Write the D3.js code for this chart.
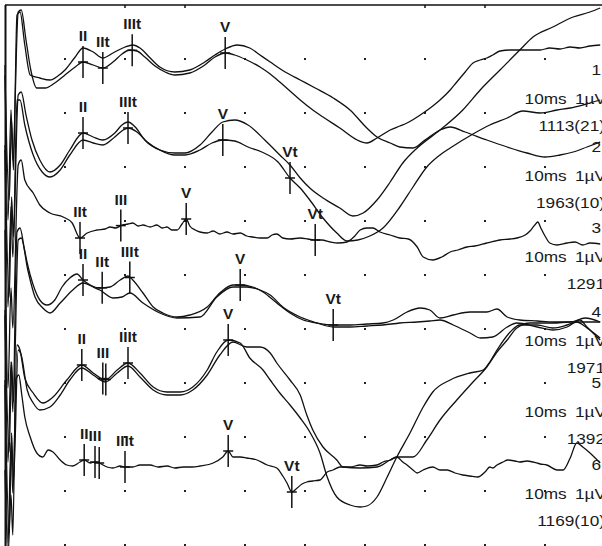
<!DOCTYPE html>
<html>
<head>
<meta charset="utf-8">
<script src="https://cdn.jsdelivr.net/npm/d3@7"></script>
<style>
  body { margin: 0; background: #fff; }
  svg { display: block; }
</style>
</head>
<body>
<div id="abr"></div>
<script>
// ABR recordings: time in ms, amplitude in µV relative to the channel baseline
var ch1a = [[0,0.05],[0.05,-1.5],[0.1,-0.4],[0.13,-0.9],[0.22,0.58],[0.27,0.6],[0.35,0.3],[0.43,0],[0.53,-0.18],[0.67,-0.18],[0.83,-0.13],[1.0,-0.05],[1.17,0.03],[1.3,0.08],[1.47,0.05],[1.63,0.02],[1.8,0.08],[1.95,0.16],[2.08,0.2],[2.2,0.19],[2.33,0.13],[2.5,0.04],[2.67,-0.02],[2.83,-0.05],[3.08,-0.03],[3.33,0.05],[3.5,0.13],[3.67,0.17],[3.83,0.15],[4.03,0.1],[4.25,0.03],[4.42,-0.04],[4.58,-0.12],[4.75,-0.21],[4.92,-0.3],[5.13,-0.4],[5.3,-0.47],[5.58,-0.58],[5.87,-0.7],[6.03,-0.73],[6.2,-0.68],[6.42,-0.6],[6.58,-0.56],[6.7,-0.53],[6.97,-0.43],[7.13,-0.36],[7.25,-0.3],[7.42,-0.2],[7.53,-0.12],[7.67,-0.02],[7.8,0.07],[7.92,0.1],[8.03,0.12],[8.13,0.15],[8.25,0.19],[8.42,0.2],[8.63,0.2],[8.92,0.2],[9.08,0.22],[9.25,0.21],[9.42,0.23],[9.58,0.22],[9.75,0.24],[9.92,0.25]];
var ch1b = [[0,-0.05],[0.07,-1.3],[0.11,-0.5],[0.14,-1.0],[0.2,0.55],[0.25,0.58],[0.33,0.25],[0.42,-0.05],[0.58,-0.08],[0.75,-0.1],[0.88,-0.06],[1.0,0],[1.17,0.13],[1.3,0.22],[1.47,0.18],[1.63,0.12],[1.8,0.17],[2.0,0.23],[2.13,0.25],[2.25,0.22],[2.42,0.12],[2.58,0.03],[2.83,-0.02],[3.08,0],[3.33,0.08],[3.5,0.15],[3.67,0.21],[3.87,0.25],[4.08,0.22],[4.25,0.15],[4.42,0.08],[4.67,-0.02],[4.92,-0.1],[5.17,-0.18],[5.47,-0.28],[5.75,-0.4],[6.03,-0.58],[6.2,-0.67],[6.42,-0.73],[6.58,-0.77],[6.8,-0.78],[7.0,-0.7],[7.25,-0.6],[7.42,-0.57],[7.67,-0.62],[8.03,-0.7],[8.37,-0.77],[8.7,-0.83],[9.0,-0.87],[9.25,-0.85],[9.47,-0.82],[9.7,-0.77],[9.92,-0.72]];
var ch2a = [[0,-0.03],[0.05,-1.6],[0.1,-0.6],[0.13,-1.1],[0.22,0.52],[0.27,0.55],[0.35,0.32],[0.45,0.07],[0.58,-0.13],[0.75,-0.25],[0.92,-0.18],[1.08,-0.03],[1.3,0.14],[1.47,0.1],[1.63,0.07],[1.83,0.14],[1.95,0.22],[2.05,0.25],[2.17,0.2],[2.33,0.07],[2.58,-0.03],[2.83,-0.06],[3.0,-0.06],[3.25,0.02],[3.45,0.15],[3.63,0.25],[3.83,0.27],[4.05,0.22],[4.33,0.07],[4.58,-0.08],[4.75,-0.18],[4.92,-0.31],[5.08,-0.41],[5.3,-0.51],[5.58,-0.61],[5.8,-0.69],[5.97,-0.66],[6.2,-0.53],[6.42,-0.35],[6.63,-0.16],[6.87,-0.01],[7.25,0.17],[7.63,0.37],[7.92,0.57],[8.25,0.77],[8.58,0.97],[8.8,1.1],[9.13,1.2],[9.47,1.3],[9.75,1.35],[9.92,1.39]];
var ch2b = [[0,0.02],[0.07,-1.5],[0.11,-0.5],[0.14,-0.9],[0.2,0.47],[0.25,0.47],[0.33,0.22],[0.47,-0.08],[0.62,-0.25],[0.75,-0.3],[0.92,-0.23],[1.08,-0.08],[1.3,0.07],[1.47,0.04],[1.63,0.02],[1.83,0.1],[1.97,0.17],[2.05,0.19],[2.2,0.15],[2.37,0.05],[2.58,-0.03],[2.83,-0.08],[3.0,-0.08],[3.25,-0.03],[3.45,0.04],[3.63,0.07],[3.83,0.06],[4.05,0],[4.28,-0.05],[4.55,-0.15],[4.75,-0.31],[4.92,-0.41],[5.08,-0.53],[5.3,-0.71],[5.53,-0.86],[5.7,-0.94],[5.88,-0.93],[6.08,-0.89],[6.3,-0.81],[6.58,-0.6],[6.8,-0.4],[7.03,-0.2],[7.25,-0.08],[7.42,-0.01],[7.8,0.13],[8.08,0.22],[8.37,0.29],[8.63,0.36],[8.92,0.34],[9.2,0.37],[9.42,0.39],[9.63,0.42],[9.92,0.47]];
var ch3 = [[0,-0.02],[0.05,-1.6],[0.1,-0.6],[0.13,-1.0],[0.22,0.63],[0.27,0.68],[0.33,0.48],[0.47,0.35],[0.58,0.23],[0.75,0.15],[0.97,0.11],[1.12,0.05],[1.25,-0.1],[1.37,-0.05],[1.53,-0.02],[1.67,-0.01],[1.75,0.01],[1.85,0],[1.95,0.03],[2.05,0.04],[2.13,0.05],[2.22,0.02],[2.3,0.03],[2.42,0.01],[2.53,0.03],[2.62,0],[2.7,0.01],[2.78,-0.02],[2.87,-0.02],[2.95,0.04],[3.02,0.09],[3.08,0.02],[3.17,-0.02],[3.25,-0.04],[3.37,-0.05],[3.47,-0.03],[3.58,-0.06],[3.7,-0.04],[3.8,-0.06],[3.92,-0.05],[4.03,-0.08],[4.13,-0.09],[4.25,-0.1],[4.37,-0.1],[4.45,-0.07],[4.53,-0.06],[4.63,-0.1],[4.75,-0.11],[4.92,-0.1],[5.05,-0.11],[5.17,-0.12],[5.28,-0.12],[5.42,-0.14],[5.55,-0.15],[5.7,-0.14],[5.83,-0.08],[5.92,-0.02],[6.03,0],[6.13,0],[6.25,-0.04],[6.42,-0.07],[6.58,-0.1],[6.72,-0.11],[6.87,-0.19],[6.97,-0.29],[7.13,-0.32],[7.28,-0.29],[7.42,-0.24],[7.55,-0.22],[7.7,-0.19],[7.83,-0.18],[8.03,-0.15],[8.17,-0.13],[8.25,-0.12],[8.42,-0.11],[8.53,-0.1],[8.67,-0.07],[8.75,-0.03],[8.83,0.03],[8.88,0.06],[8.93,0.0],[9.0,-0.08],[9.08,-0.15],[9.2,-0.17],[9.37,-0.15],[9.5,-0.14],[9.63,-0.17],[9.75,-0.15],[9.92,-0.16]];
var ch4a = [[0,-0.03],[0.05,-1.5],[0.1,-0.5],[0.13,-1.0],[0.2,0.8],[0.25,0.84],[0.32,0.64],[0.37,0.49],[0.47,0.27],[0.58,0.12],[0.7,0.07],[0.83,0.12],[0.95,0.25],[1.08,0.34],[1.2,0.38],[1.3,0.32],[1.42,0.27],[1.58,0.24],[1.75,0.25],[1.92,0.32],[2.05,0.36],[2.13,0.32],[2.3,0.19],[2.47,0.05],[2.63,-0.01],[2.87,-0.05],[3.08,-0.03],[3.37,0.05],[3.58,0.19],[3.8,0.27],[3.92,0.27],[4.13,0.25],[4.3,0.2],[4.53,0.09],[4.75,-0.01],[4.97,-0.08],[5.2,-0.11],[5.47,-0.13],[5.75,-0.13],[6.03,-0.12],[6.3,-0.11],[6.47,-0.08],[6.7,0],[6.92,0.04],[7.08,0.02],[7.25,-0.06],[7.47,-0.03],[7.75,0],[8.03,0],[8.2,0.03],[8.37,-0.05],[8.58,-0.08],[8.87,-0.09],[9.13,-0.1],[9.42,-0.1],[9.67,-0.06],[9.92,-0.1]];
var ch4b = [[0,0.02],[0.07,-1.4],[0.11,-0.5],[0.14,-0.9],[0.22,0.72],[0.27,0.74],[0.38,0.42],[0.5,0.15],[0.63,0.04],[0.75,-0.01],[0.92,0.09],[1.13,0.22],[1.3,0.29],[1.47,0.25],[1.58,0.22],[1.8,0.14],[1.95,0.15],[2.08,0.19],[2.3,0.09],[2.58,-0.01],[2.87,-0.06],[3.25,-0.05],[3.53,0.15],[3.8,0.25],[4.03,0.25],[4.25,0.22],[4.42,0.17],[4.63,0.05],[4.92,-0.05],[5.2,-0.11],[5.47,-0.15],[5.75,-0.15],[6.03,-0.14],[6.3,-0.13],[6.58,-0.11],[6.87,-0.1],[7.08,-0.09],[7.25,-0.08],[7.47,-0.13],[7.75,-0.21],[7.92,-0.26],[8.13,-0.25],[8.37,-0.15],[8.53,-0.11],[8.87,-0.15],[9.13,-0.18],[9.37,-0.15],[9.58,-0.08],[9.7,-0.15],[9.8,-0.21],[9.92,-0.28]];
var ch5a = [[0,-0.02],[0.05,-1.6],[0.1,-0.6],[0.13,-1.1],[0.2,0.38],[0.25,0.33],[0.33,0.05],[0.47,-0.1],[0.63,-0.2],[0.8,-0.14],[1.03,0.03],[1.28,0.18],[1.47,0.1],[1.67,0.03],[1.87,0.13],[2.05,0.2],[2.25,0.1],[2.47,-0.04],[2.7,-0.09],[2.92,-0.09],[3.13,-0.04],[3.37,0.13],[3.53,0.31],[3.72,0.43],[3.92,0.4],[4.08,0.25],[4.3,0.13],[4.42,0.03],[4.58,-0.1],[4.75,-0.22],[4.92,-0.35],[5.08,-0.49],[5.25,-0.7],[5.37,-0.94],[5.53,-1.14],[5.75,-1.22],[5.92,-1.24],[6.03,-1.23],[6.2,-1.14],[6.37,-0.94],[6.53,-0.74],[6.75,-0.5],[6.97,-0.24],[7.13,-0.09],[7.42,0.03],[7.75,0.1],[7.97,0.13],[8.08,0.21],[8.2,0.33],[8.42,0.51],[8.58,0.58],[8.87,0.58],[9.13,0.55],[9.37,0.58],[9.53,0.61],[9.7,0.55],[9.92,0.45]];
var ch5b = [[0,0.03],[0.07,-1.5],[0.11,-0.5],[0.14,-1.0],[0.22,0.33],[0.27,0.28],[0.37,-0.07],[0.47,-0.2],[0.58,-0.27],[0.75,-0.24],[0.92,-0.12],[1.08,0.03],[1.28,0.15],[1.47,0.08],[1.67,0.01],[1.87,0.1],[2.05,0.17],[2.25,0.06],[2.47,-0.07],[2.7,-0.12],[2.92,-0.12],[3.13,-0.07],[3.37,0.08],[3.58,0.28],[3.8,0.41],[4.03,0.36],[4.25,0.36],[4.42,0.3],[4.53,0.2],[4.75,0.03],[4.92,-0.12],[5.03,-0.32],[5.13,-0.47],[5.3,-0.64],[5.53,-0.77],[5.63,-0.84],[5.92,-0.85],[6.2,-0.84],[6.42,-0.77],[6.53,-0.74],[6.8,-0.74],[7.03,-0.57],[7.25,-0.37],[7.53,-0.17],[7.8,0.01],[8.03,0.16],[8.2,0.31],[8.37,0.43],[8.53,0.55],[8.75,0.6],[9.13,0.6],[9.42,0.61],[9.92,0.61]];
var ch6 = [[0,-0.05],[0.05,-0.9],[0.1,-0.3],[0.13,-0.7],[0.18,0.85],[0.23,0.9],[0.28,0.7],[0.33,0.48],[0.42,0.28],[0.53,0.12],[0.63,0.08],[0.72,0.15],[0.8,0.13],[0.92,0.05],[1.03,0],[1.13,-0.01],[1.25,0.03],[1.32,0.05],[1.42,0.02],[1.5,0.03],[1.57,0.02],[1.7,-0.02],[1.8,-0.03],[1.92,-0.01],[2.0,-0.02],[2.13,-0.02],[2.25,0],[2.42,0],[2.55,-0.02],[2.7,-0.01],[2.83,-0.03],[2.97,-0.02],[3.12,-0.02],[3.25,-0.01],[3.47,0.02],[3.63,0.08],[3.72,0.14],[3.8,0.08],[3.92,0.08],[4.03,0.07],[4.2,0.05],[4.37,0],[4.53,-0.03],[4.63,-0.11],[4.7,-0.18],[4.78,-0.27],[4.87,-0.23],[4.95,-0.19],[5.03,-0.17],[5.13,-0.16],[5.25,-0.15],[5.37,-0.07],[5.47,-0.05],[5.58,-0.02],[5.75,-0.02],[5.92,0],[6.03,-0.01],[6.2,0],[6.3,0.03],[6.42,0.05],[6.53,0.08],[6.63,0.03],[6.7,0],[6.8,-0.05],[6.87,-0.08],[6.97,-0.05],[7.13,-0.02],[7.25,-0.05],[7.37,-0.05],[7.5,-0.08],[7.63,-0.1],[7.75,-0.11],[7.88,-0.12],[8.0,-0.07],[8.08,-0.02],[8.13,-0.03],[8.2,0],[8.3,0.03],[8.38,0.05],[8.5,0.04],[8.58,0.03],[8.7,0.04],[8.8,0.03],[8.92,0.01],[9.03,0],[9.2,-0.05],[9.3,-0.05],[9.42,0.07],[9.53,0.22],[9.63,0.18],[9.75,0.12],[9.87,0.05],[9.92,0.02]];

var channelNames = ["1", "2", "3", "4", "5", "6"];
var scaleText = "10ms 1µV";
var sweepCounts = ["1113(21)", "1963(10)", "1291", "1971", "1392", "1169(10)"];

var traces = [
  { ch: 0, data: ch1a }, { ch: 0, data: ch1b },
  { ch: 1, data: ch2a }, { ch: 1, data: ch2b },
  { ch: 2, data: ch3 },
  { ch: 3, data: ch4a }, { ch: 3, data: ch4b },
  { ch: 4, data: ch5a }, { ch: 4, data: ch5b },
  { ch: 5, data: ch6 }
];

// peak markers: channel, trace, latency (ms), label
var peaks = [
  { ch: 0, tr: ch1a, t: 1.3, label: "II" }, { ch: 0, tr: ch1a, t: 1.63, label: "IIt" },
  { ch: 0, tr: ch1a, t: 2.12, label: "IIIt" }, { ch: 0, tr: ch1a, t: 3.67, label: "V" },
  { ch: 1, tr: ch2a, t: 1.3, label: "II" }, { ch: 1, tr: ch2b, t: 2.05, label: "IIIt" },
  { ch: 1, tr: ch2b, t: 3.63, label: "V" }, { ch: 1, tr: ch2b, t: 4.75, label: "Vt" },
  { ch: 2, tr: ch3, t: 1.25, label: "IIt" }, { ch: 2, tr: ch3, t: 1.93, label: "III" },
  { ch: 2, tr: ch3, t: 3.02, label: "V" }, { ch: 2, tr: ch3, t: 5.17, label: "Vt" },
  { ch: 3, tr: ch4a, t: 1.3, label: "II" }, { ch: 3, tr: ch4a, t: 1.62, label: "IIt" },
  { ch: 3, tr: ch4a, t: 2.08, label: "IIIt" }, { ch: 3, tr: ch4a, t: 3.92, label: "V" },
  { ch: 3, tr: ch4a, t: 5.47, label: "Vt" },
  { ch: 4, tr: ch5a, t: 1.28, label: "II" }, { ch: 4, tr: ch5a, t: 1.63, label: "III" },
  { ch: 4, tr: ch5a, t: 1.68, label: "" }, { ch: 4, tr: ch5a, t: 2.05, label: "IIIt" },
  { ch: 4, tr: ch5a, t: 3.72, label: "V" },
  { ch: 5, tr: ch6, t: 1.32, label: "II" }, { ch: 5, tr: ch6, t: 1.5, label: "III" },
  { ch: 5, tr: ch6, t: 1.57, label: "" }, { ch: 5, tr: ch6, t: 2.0, label: "IIIt" },
  { ch: 5, tr: ch6, t: 3.72, label: "V" }, { ch: 5, tr: ch6, t: 4.78, label: "Vt" }
];

var width = 602, height = 546;

var svg = d3.select("#abr")
  .append("svg")
  .attr("width", width)
  .attr("height", height);

// time axis: 10 ms over the frame
var x = d3.scaleLinear().domain([0, 10]).range([5, 605]);

// each channel has its own baseline, 1 µV = 100 px
var chanBase = [70, 147, 228, 312, 383, 465];
var yCh = chanBase.map(function (b) {
  return d3.scaleLinear().domain([0, 1]).range([b, b - 100]);
});

// frame
svg.append("line").attr("x1", 5).attr("x2", width).attr("y1", 5).attr("y2", 5)
  .attr("stroke", "#111").attr("stroke-width", 1.5);
svg.append("line").attr("x1", 5.5).attr("x2", 5.5).attr("y1", 5).attr("y2", height)
  .attr("stroke", "#111").attr("stroke-width", 2);
[2, 3, 7, 8].forEach(function (ms) {
  svg.append("line").attr("x1", x(ms)).attr("x2", x(ms)).attr("y1", 5).attr("y2", 8)
    .attr("stroke", "#111").attr("stroke-width", 1.5);
});

// grid dots every ms and every row
var rows = d3.range(10).map(function (j) { return 59 + 54 * j; });
var cols = d3.range(1, 10);
rows.forEach(function (ry) {
  svg.selectAll(null).data(cols).enter().append("rect")
    .attr("x", function (d) { return x(d) - 1; })
    .attr("y", ry - 1)
    .attr("width", 2).attr("height", 2)
    .attr("fill", "#222");
});

// waveforms
traces.forEach(function (tr) {
  var line = d3.line()
    .x(function (d) { return x(d[0]); })
    .y(function (d) { return yCh[tr.ch](d[1]); })
    .curve(d3.curveMonotoneX);
  svg.append("path")
    .datum(tr.data)
    .attr("d", line)
    .attr("fill", "none")
    .attr("stroke", "#111")
    .attr("stroke-width", 1.3)
    .attr("stroke-linejoin", "round");
});

// value of a trace at a given latency (linear between samples)
function valueAt(data, t) {
  var i = d3.bisector(function (d) { return d[0]; }).left(data, t);
  if (i <= 0) return data[0][1];
  if (i >= data.length) return data[data.length - 1][1];
  var a = data[i - 1], b = data[i];
  return a[1] + (b[1] - a[1]) * (t - a[0]) / (b[0] - a[0]);
}

// peak markers
peaks.forEach(function (p) {
  var px = x(p.t), py = yCh[p.ch](valueAt(p.tr, p.t));
  svg.append("line").attr("x1", px).attr("x2", px).attr("y1", py - 16).attr("y2", py + 16)
    .attr("stroke", "#111").attr("stroke-width", 1.5);
  svg.append("line").attr("x1", px - 5).attr("x2", px + 5).attr("y1", py).attr("y2", py)
    .attr("stroke", "#111").attr("stroke-width", 1.5);
  if (p.label) {
    svg.append("text")
      .attr("transform", "translate(" + px + "," + (py - 21) + ") scale(1.1,1)")
      .attr("text-anchor", "middle")
      .attr("font-family", "Liberation Sans, Arial, sans-serif")
      .attr("font-size", 14)
      .attr("font-weight", "bold")
      .attr("fill", "#1a1a1a")
      .text(p.label);
  }
});

// right-hand channel texts
function rightText(str, xr, yc) {
  svg.append("text")
    .attr("transform", "translate(" + xr + "," + (yc + 5) + ") scale(1.15,1)")
    .attr("text-anchor", "end")
    .attr("font-family", "Liberation Sans, Arial, sans-serif")
    .attr("font-size", 15)
    .attr("word-spacing", 3)
    .attr("fill", "#1a1a1a")
    .text(str);
}
chanBase.forEach(function (b, i) {
  rightText(channelNames[i], 601, b);
  rightText(scaleText, 606, b + 29);
  rightText(sweepCounts[i], 605, b + 56);
});
</script>
</body>
</html>
